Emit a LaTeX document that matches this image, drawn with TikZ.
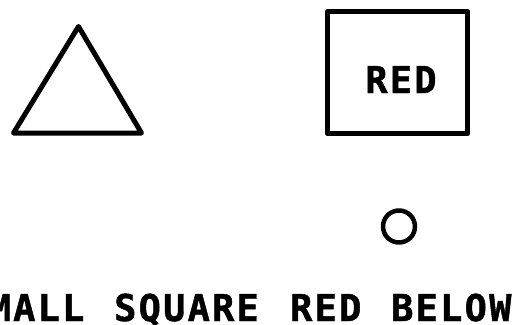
\documentclass[tikz,border=0pt]{standalone}
\usepackage{fontspec}
\newfontfamily\lettering[LetterSpace=6,FakeBold=1.2]{DejaVu Sans Mono Bold}
\begin{document}
\begin{tikzpicture}[x=1pt,y=-1pt,
  ink/.style={draw=black,line join=round,line cap=round},
  label/.style={inner sep=0pt,font=\lettering\fontsize{37}{37}\selectfont},
  word/.style={label,anchor=base west}]
\useasboundingbox (0,0) rectangle (524,324);
\clip (0,0) rectangle (524,324);
\fill[white] (0,0) rectangle (524,324);
% triangle
\coordinate (tA) at (78.5,26.5);
\coordinate (tL) at (13.5,133);
\coordinate (tR) at (141.5,133);
\draw[ink,line width=5pt] (tA) -- (tL) -- (tR) -- cycle;
% square with RED
\node[ink,line width=5.5pt,minimum width=140pt,minimum height=122pt,inner sep=0pt] (box) at (397.5,72.5) {};
\node[label,anchor=base] (red) at (401,93) {RED};
% small circle
\node[ink,circle,line width=4.5pt,minimum size=32pt,inner sep=0pt] (dot) at (399,226.5) {};
% caption
\node[word] (w1) at (-36,321) {SMALL};
\node[word] (w2) at (114,321) {SQUARE};
\node[word] (w3) at (290,321) {RED};
\node[word] (w4) at (391,321) {BELOW};
\end{tikzpicture}
\end{document}
